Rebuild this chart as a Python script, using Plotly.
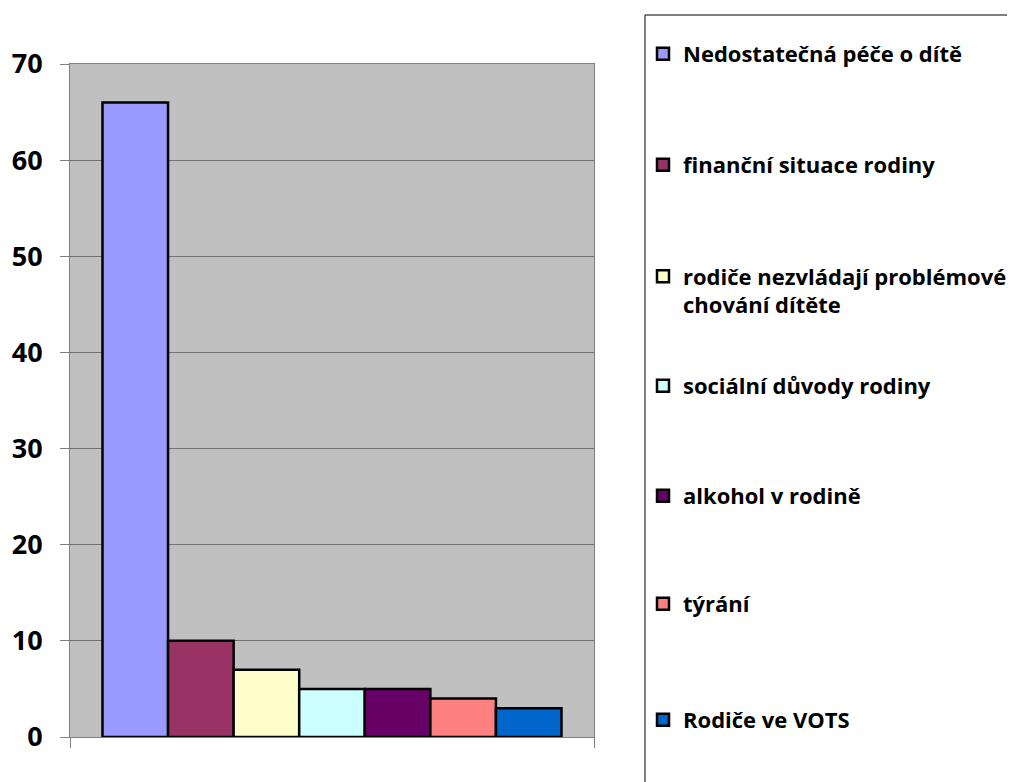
import plotly.graph_objects as go

categories = ["Nedostatečná péče o dítě", "finanční situace rodiny",
              "rodiče nezvládají problémové<br>chování dítěte", "sociální důvody rodiny",
              "alkohol v rodině", "týrání", "Rodiče ve VOTS"]
values = [66, 10, 7, 5, 5, 4, 3]
colors = ["#9999FF", "#993366", "#FFFFCC", "#CCFFFF", "#660066", "#FF8080", "#0066CC"]
y_ticks = [0, 10, 20, 30, 40, 50, 60, 70]

# page body has an 8px margin; work in figure coordinates
OFF = 8
W, H = 1015 - OFF, 782 - OFF
L, R, T, B = 70 - OFF, 594 - OFF, 64 - OFF, 737 - OFF
pw, ph = R - L, B - T

def px_x(x):
    return (x - OFF - L) / pw

def px_y(y):
    return (B - (y - OFF)) / ph

legend_centers = [54, 165, 291, 386, 496, 604, 720]

fig = go.Figure()
legend_layouts = {}
for i, (name, val, col) in enumerate(zip(categories, values, colors)):
    lname = "legend" if i == 0 else f"legend{i+1}"
    fig.add_trace(go.Bar(
        x=[0], y=[val], name=name, marker=dict(color=col, line=dict(color="black", width=2.5)),
        legend=lname, showlegend=True,
    ))
    legend_layouts[lname] = dict(
        x=px_x(643), xanchor="left", y=px_y(legend_centers[i]), yanchor="middle",
        bgcolor="rgba(0,0,0,0)", borderwidth=0, valign="top",
        font=dict(family="Open Sans", size=22, color="black", weight="bold"),
    )

fig.update_layout(
    width=W, height=H,
    margin=dict(l=L, r=W - R, t=T, b=H - B, autoexpand=False),
    paper_bgcolor="white", plot_bgcolor="#C0C0C0",
    barmode="group", bargap=0.124, bargroupgap=0,
    font=dict(family="Open Sans", color="black"),
    **legend_layouts,
)
fig.update_xaxes(range=[-0.5, 0.5], tickmode="array", tickvals=[-0.5, 0.5], ticktext=["", ""],
                 ticks="outside", ticklen=10, tickcolor="#808080", showgrid=False,
                 showline=True, linecolor="#808080", mirror=True, zeroline=False)
fig.update_yaxes(range=[0, 70], tickmode="array", tickvals=y_ticks, ticks="outside", ticklen=9,
                 tickcolor="#808080", showgrid=True, gridcolor="#707070", gridwidth=1,
                 showline=True, linecolor="#808080", mirror=True, zeroline=False,
                 ticklabelstandoff=12,
                 tickfont=dict(family="Open Sans", size=27, color="black", weight="bold"))
fig.add_shape(type="rect", xref="paper", yref="paper",
              x0=px_x(645), x1=px_x(1100), y0=px_y(15), y1=px_y(850),
              line=dict(color="black", width=1), fillcolor="rgba(0,0,0,0)", layer="below")
fig.write_html("out.html")
